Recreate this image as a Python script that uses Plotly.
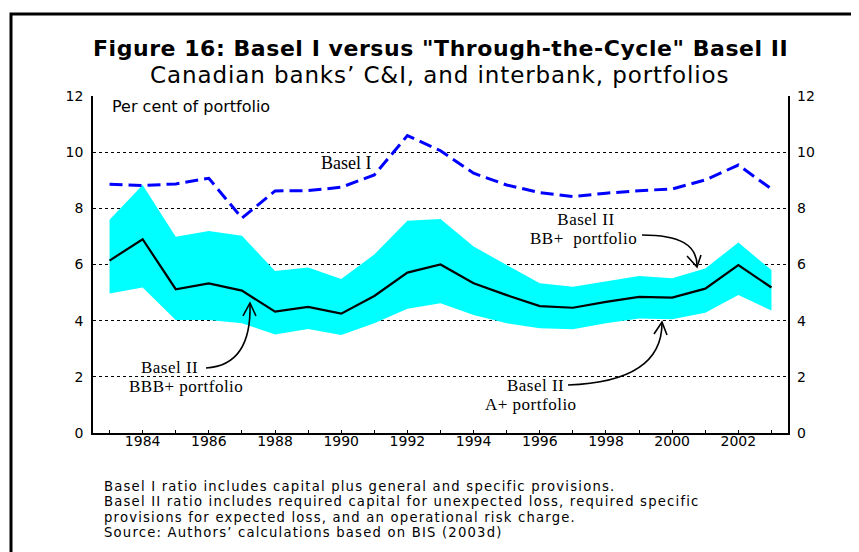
import plotly.graph_objects as go

# data
years = [1983, 1984, 1985, 1986, 1987, 1988, 1989, 1990, 1991, 1992, 1993,
         1994, 1995, 1996, 1997, 1998, 1999, 2000, 2001, 2002, 2003]
basel1 = [8.86, 8.81, 8.87, 9.07, 7.65, 8.62, 8.63, 8.75, 9.19, 10.59, 10.05,
          9.25, 8.83, 8.56, 8.42, 8.54, 8.63, 8.69, 9.01, 9.54, 8.69]
basel2_bbb = [6.14, 6.90, 5.12, 5.33, 5.07, 4.32, 4.49, 4.25, 4.88, 5.71, 6.00,
              5.33, 4.91, 4.52, 4.46, 4.67, 4.85, 4.82, 5.14, 5.98, 5.18]
basel2_bb = [7.59, 8.83, 6.99, 7.19, 7.02, 5.77, 5.89, 5.48, 6.36, 7.56, 7.62,
             6.64, 5.98, 5.33, 5.21, 5.41, 5.59, 5.51, 5.86, 6.78, 5.80]
basel2_a = [4.97, 5.18, 4.02, 4.02, 3.91, 3.51, 3.70, 3.49, 3.91, 4.42, 4.62,
            4.20, 3.91, 3.73, 3.69, 3.91, 4.08, 4.05, 4.28, 4.91, 4.36]
y_ticks = [0, 2, 4, 6, 8, 10, 12]

title = 'Figure 16: Basel I versus "Through-the-Cycle" Basel II'
subtitle = "Canadian banks\u2019 C&I, and interbank, portfolios"
notes = [
    "Basel I ratio includes capital plus general and specific provisions.",
    "Basel II ratio includes required capital for unexpected loss, required specific",
    "provisions for expected loss, and an operational risk charge.",
    "Source: Authors\u2019 calculations based on BIS (2003d)",
]

# the page puts the figure 8px in from the top-left corner
OFF = 8
W, H = 859 - OFF, 552 - OFF
L, R, T, B = 93, 788, 96, 433   # plot area, page pixels
SANS = "DejaVu Sans"
SERIF = "Liberation Serif"
NB = "\u00a0"


def px(x):
    return (x - L) / (R - L)


def py(y):
    return (B - y) / (B - T)


def path(*pts):
    p = [f"{px(x):.4f},{py(y):.4f}" for x, y in pts]
    if len(p) == 4:
        return f"M {p[0]} C {p[1]} {p[2]} {p[3]}"
    return "M " + " L ".join(p)


fig = go.Figure()
fig.add_trace(go.Scatter(x=years, y=basel2_a, mode="lines",
                         line=dict(width=0), hoverinfo="skip", showlegend=False))
fig.add_trace(go.Scatter(x=years, y=basel2_bb, mode="lines", fill="tonexty",
                         fillcolor="#00FFFF", line=dict(width=0), showlegend=False))
fig.add_trace(go.Scatter(x=years, y=basel2_bbb, mode="lines",
                         line=dict(color="black", width=2.2), showlegend=False))
fig.add_trace(go.Scatter(x=years, y=basel1, mode="lines",
                         line=dict(color="#0000FF", width=3, dash="13px,6px"),
                         showlegend=False))
# carries the right-hand axis labels
fig.add_trace(go.Scatter(x=years, y=basel1, yaxis="y2", mode="lines",
                         line=dict(width=0), opacity=0, hoverinfo="skip",
                         showlegend=False))

curve = dict(type="path", xref="paper", yref="paper",
             line=dict(color="black", width=1.6))
shapes = [
    # outer frame (runs off the page at right and bottom)
    dict(type="rect", xref="paper", yref="paper", x0=px(11), x1=px(880),
         y0=py(14), y1=py(580), line=dict(color="black", width=3)),
    # BBB+ arrow
    dict(curve, path=path((206, 368), (240, 366), (251, 340), (250, 304))),
    dict(curve, path=path((243, 316), (250, 303), (256, 316))),
    # A+ arrow
    dict(curve, path=path((568, 385), (625, 383), (662, 365), (662, 323))),
    dict(curve, path=path((654, 334), (662, 322), (667, 335))),
    # BB+ arrow
    dict(curve, path=path((642, 235), (680, 235), (697, 245), (697, 266))),
    dict(curve, path=path((687, 256), (697, 267), (701, 255))),
]

ann = []


def block(lines, x, y, size, gap, family=SERIF, xanchor="center", spacing=0,
          bold=False):
    # several lines in one text; the base size sets the line gap
    style = f"font-size:{size}px;letter-spacing:{spacing}px"
    text = "<br>".join(
        f"<span style='{style}'>{'<b>' + s + '</b>' if bold else s}</span>"
        for s in lines)
    ann.append(dict(text=text, x=px(x), y=py(y), xref="paper", yref="paper",
                    xanchor=xanchor, yanchor="middle", align=xanchor,
                    showarrow=False,
                    font=dict(family=family, size=gap / 1.3, color="black")))


block([title], 440, 49, 22, 26, SANS, spacing=0.55, bold=True)
block([subtitle], 439, 75, 23, 26, SANS, spacing=0.9)
block(["Per cent of portfolio"], 110, 106, 16, 20, SANS, "left")
block(["Basel I"], 346, 163, 18, 22)
block([NB + "Basel II", "BB+  portfolio"], 583, 229, 17, 19, spacing=0.5)
block(["Basel II" + NB * 7, "BBB+ portfolio"], 186, 377, 17, 19, spacing=0.5)
block([NB * 2 + "Basel II", "A+ portfolio"], 531, 395, 17, 19, spacing=0.5)
block(notes, 102, 509, 13.2, 15.4, SANS, "left", spacing=1.2)

axis_font = dict(family=SANS, size=14, color="black")
fig.update_layout(
    width=W, height=H,
    margin=dict(l=L - OFF, r=W - (R - OFF), t=T - OFF, b=H - (B - OFF)),
    paper_bgcolor="white", plot_bgcolor="white",
    shapes=shapes, annotations=ann,
    xaxis=dict(range=[1982.5, 2003.5], tick0=1984, dtick=2,
               ticks="inside", ticklen=3, tickcolor="black",
               minor=dict(ticks="inside", ticklen=3, dtick=1, tick0=1983,
                          tickcolor="black"),
               showline=True, linecolor="black", linewidth=1.5,
               showgrid=False, zeroline=False, tickfont=axis_font,
               ticklabelstandoff=-6),
    yaxis=dict(range=[0, 12], tickvals=y_ticks, ticks="",
               showline=True, linecolor="black", linewidth=1.5, mirror=True,
               showgrid=True, gridcolor="black", gridwidth=1, griddash="dot",
               zeroline=False, tickfont=axis_font, ticklabelstandoff=5),
    yaxis2=dict(range=[0, 12], tickvals=y_ticks, overlaying="y", side="right",
                ticks="", showline=False, showgrid=False, zeroline=False,
                tickfont=axis_font, ticklabelstandoff=8),
)

fig.write_html("out.html")
